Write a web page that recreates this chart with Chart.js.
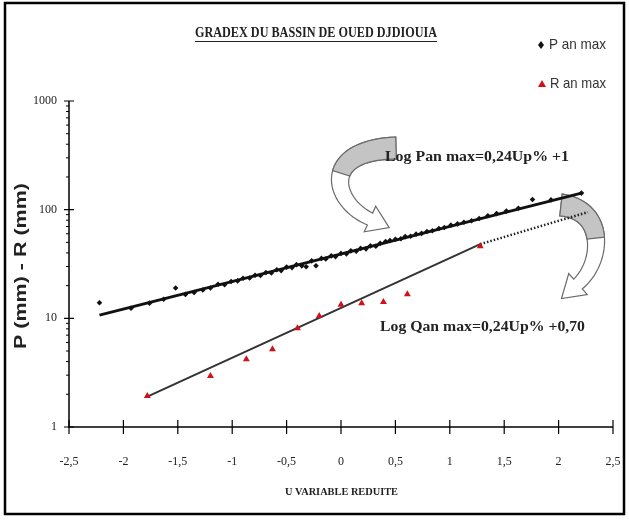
<!DOCTYPE html>
<html>
<head>
<meta charset="utf-8">
<script src="https://cdn.jsdelivr.net/npm/chart.js@4.4.1/dist/chart.umd.min.js"></script>
<style>
  html, body { margin: 0; padding: 0; background: #fff; }
  #wrap { width: 629px; height: 520px; }
</style>
</head>
<body>
<div id="wrap"><canvas id="gradexChart" width="629" height="520"></canvas></div>
<script>
// Annual maximum rainfall: reduced variable u and P (mm)
const uP = [-2.22, -1.93, -1.76, -1.63, -1.52, -1.43, -1.35, -1.27, -1.2, -1.13,
            -1.07, -1.01, -0.95, -0.9, -0.84, -0.79, -0.74, -0.69, -0.64, -0.59,
            -0.55, -0.5, -0.45, -0.41, -0.36, -0.32, -0.27, -0.23, -0.18, -0.14,
            -0.09, -0.05, 0, 0.05, 0.09, 0.14, 0.18, 0.23, 0.27, 0.32,
            0.36, 0.41, 0.45, 0.5, 0.55, 0.59, 0.64, 0.69, 0.74, 0.79,
            0.84, 0.9, 0.95, 1.01, 1.07, 1.13, 1.2, 1.27, 1.35, 1.43,
            1.52, 1.63, 1.76, 1.93, 2.21];
const pAnMax = [13.9, 12.4, 13.8, 15.0, 19.0, 16.6, 17.3, 18.2, 19.0, 20.6,
                20.4, 21.8, 22.1, 23.4, 23.5, 24.9, 24.8, 26.4, 26.1, 28.0,
                27.5, 29.6, 29.3, 31.2, 30.4, 29.8, 33.8, 30.5, 35.6, 35.2,
                37.6, 37.0, 39.6, 39.2, 41.8, 41.4, 44.0, 43.6, 46.4, 46.0,
                49.0, 51.0, 52.0, 53.5, 54.0, 56.5, 57.0, 59.5, 60.5, 63.0,
                64.0, 67.0, 68.5, 72.0, 74.0, 76.5, 79.0, 83.0, 88.0, 92.0,
                97.0, 103, 124, 123, 142];

// Annual maximum runoff: reduced variable u and R (mm)
const uR = [-1.78, -1.2, -0.87, -0.63, -0.4, -0.2, 0, 0.19, 0.39, 0.61, 1.28];
const rAnMax = [1.93, 2.94, 4.2, 5.2, 8.1, 10.5, 13.3, 13.8, 14.1, 16.7, 46];

// Adjusted lines (end points) and gradex extrapolation
const pFitU = [-2.22, 2.21];
const pFitVal = [10.7, 142];
const rFitU = [-1.78, 1.28];
const rFitVal = [1.9, 48.2];
const rExtU = [1.28, 2.27];
const rExtVal = [48.2, 95];

const xTicks = [-2.5, -2, -1.5, -1, -0.5, 0, 0.5, 1, 1.5, 2, 2.5];
const yTicks = [1, 10, 100, 1000];

const SERIF = '"Liberation Serif", "Times New Roman", serif';
const SANS = '"Liberation Sans", Arial, sans-serif';

const toXY = (xs, ys) => xs.map((x, i) => ({ x: x, y: ys[i] }));

// draw text squeezed/stretched to a given width
function fitText(ctx, text, x, y, width) {
    const w = ctx.measureText(text).width;
    ctx.save();
    ctx.translate(x, y);
    ctx.scale(width / w, 1);
    ctx.fillText(text, 0, 0);
    ctx.restore();
}

// curved block arrow along a cubic bezier, back part shaded
function curvedArrow(ctx, pts, w0, w1, headW, headL, shadeTo) {
    const [p0, c1, c2, p3] = pts;
    const bez = (t, k) => {
        const m = 1 - t;
        return m * m * m * p0[k] + 3 * m * m * t * c1[k] + 3 * m * t * t * c2[k] + t * t * t * p3[k];
    };
    const der = (t, k) => {
        const m = 1 - t;
        return 3 * m * m * (c1[k] - p0[k]) + 6 * m * t * (c2[k] - c1[k]) + 3 * t * t * (p3[k] - c2[k]);
    };
    const N = 40, left = [], right = [];
    for (let i = 0; i <= N; i++) {
        const t = i / N;
        const x = bez(t, 0), y = bez(t, 1);
        let dx = der(t, 0), dy = der(t, 1);
        const len = Math.hypot(dx, dy);
        dx /= len; dy /= len;
        const hw = (w0 + (w1 - w0) * t) / 2;
        left.push([x - dy * hw, y + dx * hw]);
        right.push([x + dy * hw, y - dx * hw]);
    }
    let dx = der(1, 0), dy = der(1, 1);
    const len = Math.hypot(dx, dy);
    dx /= len; dy /= len;
    const tip = [p3[0] + dx * headL, p3[1] + dy * headL];
    const hl = [p3[0] - dy * headW, p3[1] + dx * headW];
    const hr = [p3[0] + dy * headW, p3[1] - dx * headW];

    ctx.save();
    ctx.lineWidth = 1.2;
    ctx.strokeStyle = '#6a6a6a';
    ctx.beginPath();
    left.forEach((p, i) => i ? ctx.lineTo(p[0], p[1]) : ctx.moveTo(p[0], p[1]));
    ctx.lineTo(hl[0], hl[1]);
    ctx.lineTo(tip[0], tip[1]);
    ctx.lineTo(hr[0], hr[1]);
    right.slice().reverse().forEach(p => ctx.lineTo(p[0], p[1]));
    ctx.closePath();
    ctx.fillStyle = '#ffffff';
    ctx.fill();
    ctx.stroke();

    const n = Math.round(shadeTo * N);
    ctx.beginPath();
    left.slice(0, n + 1).forEach((p, i) => i ? ctx.lineTo(p[0], p[1]) : ctx.moveTo(p[0], p[1]));
    right.slice(0, n + 1).reverse().forEach(p => ctx.lineTo(p[0], p[1]));
    ctx.closePath();
    ctx.fillStyle = '#c4c4c4';
    ctx.fill();
    ctx.stroke();
    ctx.restore();
}

const decor = {
    id: 'decor',
    beforeDraw(chart) {
        const ctx = chart.ctx;
        ctx.save();
        ctx.fillStyle = '#fff';
        ctx.fillRect(0, 0, chart.width, chart.height);
        ctx.restore();
    },
    beforeDatasetsDraw(chart) {
        const ctx = chart.ctx;
        curvedArrow(ctx, [[396, 148], [320, 150], [332, 202], [370, 219]], 22, 13, 14, 21, 0.45);
        curvedArrow(ctx, [[561, 205], [606, 210], [603, 262], [578, 284]], 22, 13, 14, 22, 0.5);
    },
    afterDraw(chart) {
        const ctx = chart.ctx;
        const xs = chart.scales.x, ys = chart.scales.y;
        const area = chart.chartArea;
        ctx.save();

        // axes
        ctx.strokeStyle = '#000';
        ctx.lineWidth = 1.5;
        ctx.beginPath();
        ctx.moveTo(area.left, area.top);
        ctx.lineTo(area.left, area.bottom);
        ctx.lineTo(area.right, area.bottom);
        ctx.stroke();

        ctx.lineWidth = 1.2;
        ctx.beginPath();
        xTicks.forEach(v => {
            const px = xs.getPixelForValue(v);
            ctx.moveTo(px, area.bottom - 7);
            ctx.lineTo(px, area.bottom + 7);
        });
        yTicks.forEach(v => {
            const py = ys.getPixelForValue(v);
            ctx.moveTo(area.left - 5, py);
            ctx.lineTo(area.left + 5, py);
        });
        ctx.stroke();
        ctx.lineWidth = 1;
        ctx.beginPath();
        [1, 10, 100].forEach(d => {
            for (let k = 2; k <= 9; k++) {
                const py = ys.getPixelForValue(d * k);
                ctx.moveTo(area.left - 3, py);
                ctx.lineTo(area.left, py);
            }
        });
        ctx.stroke();

        // frame
        ctx.lineWidth = 2.5;
        ctx.strokeRect(5, 3, 619, 511);

        // title
        ctx.fillStyle = '#222';
        ctx.textBaseline = 'middle';
        ctx.textAlign = 'left';
        ctx.font = 'bold 15px ' + SERIF;
        fitText(ctx, 'GRADEX DU BASSIN DE OUED DJDIOUIA', 195, 33, 242);
        ctx.lineWidth = 1;
        ctx.strokeStyle = '#222';
        ctx.beginPath();
        ctx.moveTo(195, 41.5);
        ctx.lineTo(437, 41.5);
        ctx.stroke();

        // legend
        ctx.fillStyle = '#111';
        ctx.beginPath();
        ctx.moveTo(541, 41); ctx.lineTo(544, 45); ctx.lineTo(541, 49); ctx.lineTo(538, 45);
        ctx.closePath();
        ctx.fill();
        ctx.fillStyle = '#d0101a';
        ctx.beginPath();
        ctx.moveTo(542, 80); ctx.lineTo(546, 87); ctx.lineTo(538, 87);
        ctx.closePath();
        ctx.fill();
        ctx.fillStyle = '#333';
        ctx.font = '15px ' + SANS;
        fitText(ctx, 'P an max', 549, 45, 57);
        fitText(ctx, 'R an max', 550, 84, 56);

        // axis titles
        ctx.fillStyle = '#222';
        ctx.font = 'bold 11px ' + SERIF;
        fitText(ctx, 'U VARIABLE REDUITE', 285, 492, 113);
        ctx.save();
        ctx.translate(22, 266);
        ctx.rotate(-Math.PI / 2);
        ctx.font = 'bold 16px ' + SANS;
        fitText(ctx, 'P (mm) - R (mm)', -83, 0, 166);
        ctx.restore();

        // equations
        ctx.font = 'bold 15px ' + SERIF;
        ctx.fillStyle = '#222';
        fitText(ctx, 'Log Pan max=0,24Up% +1', 385, 157, 184);
        fitText(ctx, 'Log Qan max=0,24Up% +0,70', 380, 327, 205);
        ctx.restore();
    }
};

new Chart(document.getElementById('gradexChart'), {
    type: 'scatter',
    data: {
        datasets: [
            {
                label: 'R an max',
                data: toXY(uR, rAnMax),
                pointStyle: 'triangle',
                pointRadius: 4,
                backgroundColor: '#d0101a',
                borderColor: '#d0101a',
                borderWidth: 0,
                order: 0
            },
            {
                label: 'P an max',
                data: toXY(uP, pAnMax),
                pointStyle: 'rectRot',
                pointRadius: 2.8,
                backgroundColor: '#111',
                borderColor: '#111',
                borderWidth: 0,
                order: 1
            },
            {
                label: 'P ajustement',
                data: toXY(pFitU, pFitVal),
                showLine: true,
                borderColor: '#111',
                borderWidth: 3,
                pointRadius: 0,
                order: 2
            },
            {
                label: 'R ajustement',
                data: toXY(rFitU, rFitVal),
                showLine: true,
                borderColor: '#333',
                borderWidth: 2,
                pointRadius: 0,
                order: 3
            },
            {
                label: 'Gradex',
                data: toXY(rExtU, rExtVal),
                showLine: true,
                borderColor: '#222',
                borderWidth: 2.5,
                borderDash: [1.5, 2],
                pointRadius: 0,
                order: 4
            }
        ]
    },
    options: {
        responsive: false,
        animation: false,
        layout: { padding: { top: 101, right: 16, left: 0, bottom: 0 } },
        plugins: {
            legend: { display: false },
            tooltip: { enabled: false }
        },
        scales: {
            x: {
                type: 'linear',
                min: -2.5,
                max: 2.5,
                grid: { display: false, drawTicks: false },
                border: { display: false },
                afterBuildTicks: s => { s.ticks = xTicks.map(v => ({ value: v })); },
                afterFit: s => { s.height = 93; s.paddingLeft = 0; s.paddingRight = 0; },
                ticks: {
                    padding: 28,
                    color: '#222',
                    font: { family: SERIF, size: 12 },
                    callback: v => String(v).replace('.', ',')
                }
            },
            y: {
                type: 'logarithmic',
                min: 1,
                max: 1000,
                grid: { display: false, drawTicks: false },
                border: { display: false },
                afterBuildTicks: s => { s.ticks = yTicks.map(v => ({ value: v })); },
                afterFit: s => { s.width = 69; s.paddingTop = 0; s.paddingBottom = 0; },
                ticks: {
                    padding: 12,
                    color: '#222',
                    font: { family: SERIF, size: 12 },
                    callback: v => String(v)
                }
            }
        }
    },
    plugins: [decor]
});
</script>
</body>
</html>
